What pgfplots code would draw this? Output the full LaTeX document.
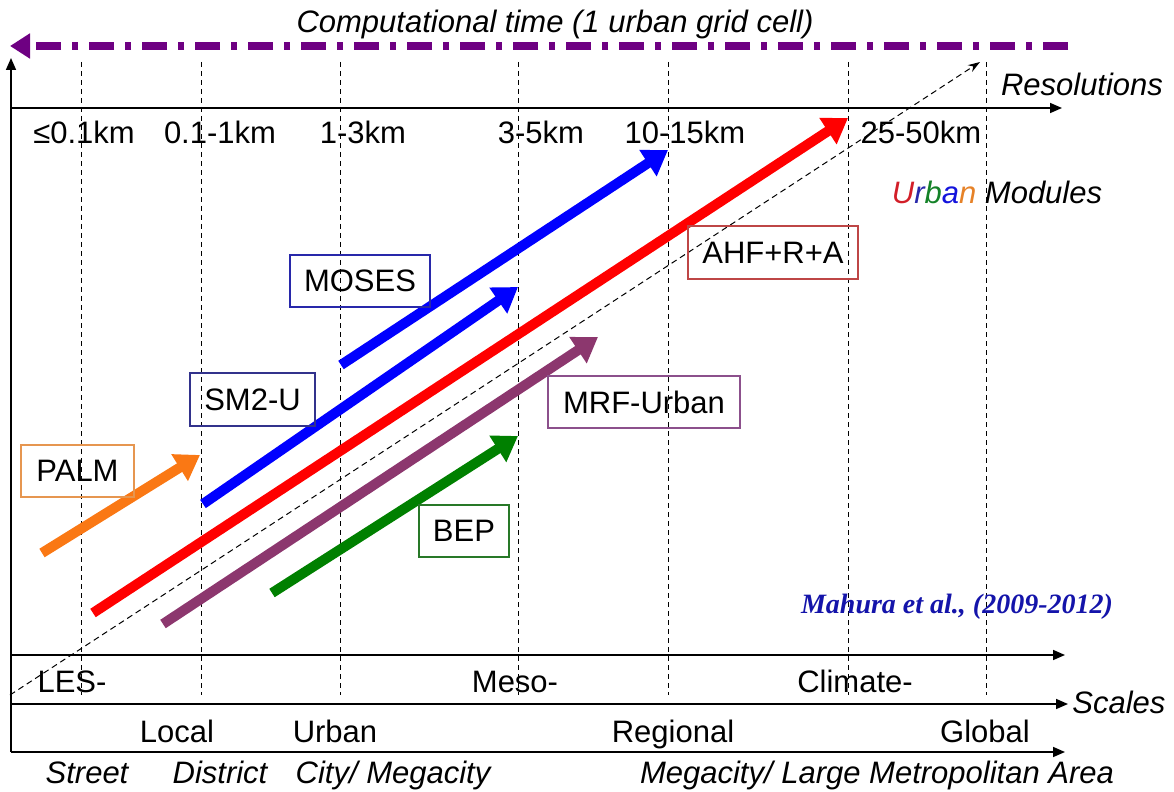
\documentclass[border=0pt]{standalone}
\usepackage{pgfplots}
\pgfplotsset{compat=1.18}
\usetikzlibrary{arrows.meta}
\usepackage{fontspec}
\setmainfont{Liberation Sans}
\newfontfamily\citefont{Liberation Serif}

\definecolor{palmorange}{RGB}{250,120,20}
\definecolor{mrfplum}{RGB}{140,55,110}
\definecolor{ctpurple}{RGB}{110,0,130}
\definecolor{modgreen}{RGB}{0,128,0}
\definecolor{citeblue}{RGB}{20,20,170}
\definecolor{boxpalm}{RGB}{230,150,80}
\definecolor{boxsm}{RGB}{50,50,140}
\definecolor{boxmoses}{RGB}{40,40,170}
\definecolor{boxahf}{RGB}{190,70,70}
\definecolor{boxmrf}{RGB}{140,80,140}
\definecolor{boxbep}{RGB}{40,120,40}

\tikzset{
  lab/.style={font=\fontsize{15.5}{18}\selectfont, inner sep=0pt, anchor=base},
  ilab/.style={font=\fontsize{15.5}{18}\selectfont\itshape, inner sep=0pt, anchor=base},
  mbox/.style={font=\fontsize{15.5}{18}\selectfont, line width=0.7pt, inner sep=0pt},
}

\begin{document}
\begin{tikzpicture}
\begin{axis}[
    x=0.5pt, y=0.5pt, y dir=reverse,
    xmin=0, xmax=1174, ymin=0, ymax=792,
    hide axis, clip=false,
    thk/.style={line width=5pt, mark=none, -{Triangle[length=12pt,width=15pt]}},
    axl/.style={black, line width=0.8pt, mark=none, -{Triangle[length=6pt,width=5pt]}},
    vdash/.style={black, line width=0.5pt, mark=none, dash pattern=on 2.5pt off 2pt},
]
\path (axis cs:0,0) rectangle (axis cs:1174,792);

% computational time arrow
\addplot[ctpurple, line width=4pt, mark=none,
    dash pattern=on 12.5pt off 5.5pt on 3pt off 5.5pt,
    -{Triangle[length=10pt,width=12pt]}] coordinates {(1068,46) (10,46)};

% dashed resolution lines
\addplot[vdash] coordinates {(81,62) (81,695)};
\addplot[vdash] coordinates {(201,62) (201,695)};
\addplot[vdash] coordinates {(340,62) (340,695)};
\addplot[vdash] coordinates {(518,62) (518,695)};
\addplot[vdash] coordinates {(668,62) (668,695)};
\addplot[vdash] coordinates {(848,62) (848,695)};
\addplot[vdash] coordinates {(986,62) (986,695)};

% axes
\addplot[axl] coordinates {(11,752) (11,58)};
\addplot[axl] coordinates {(11,108) (1062,108)};
\addplot[axl] coordinates {(11,655) (1065,655)};
\addplot[axl] coordinates {(11,704) (1068,704)};
\addplot[axl] coordinates {(11,752) (1065,752)};

% diagonal
\addplot[black, line width=0.5pt, mark=none, dash pattern=on 3pt off 2pt,
    -{Stealth[length=6pt,width=4pt]}] coordinates {(10,695) (980,62)};

% module arrows
\addplot[thk, palmorange] coordinates {(42,553) (200,455)};
\addplot[thk, blue] coordinates {(203,504) (518,287)};
\addplot[thk, blue] coordinates {(341,365) (668,150)};
\addplot[thk, red] coordinates {(93,613) (848,118)};
\addplot[thk, mrfplum] coordinates {(163,624) (598,337)};
\addplot[thk, modgreen] coordinates {(272,593) (518,436)};

% boxes
\node[mbox, draw=boxpalm, minimum width=56.5pt, minimum height=26pt] at (axis cs:77.5,471) {PALM};
\node[mbox, draw=boxsm, minimum width=62.5pt, minimum height=26.5pt] at (axis cs:252.5,399.5) {SM2-U};
\node[mbox, draw=boxmoses, minimum width=70pt, minimum height=26pt] at (axis cs:360,281) {MOSES};
\node[mbox, draw=boxahf, minimum width=85pt, minimum height=26.5pt] at (axis cs:773,252.5) {AHF+R+A};
\node[mbox, draw=boxmrf, minimum width=96pt, minimum height=26pt] at (axis cs:644,402) {MRF-Urban};
\node[mbox, draw=boxbep, minimum width=45pt, minimum height=26pt] at (axis cs:464,531) {BEP};

% texts
\node[ilab] at (axis cs:555,33) {Computational time (1 urban grid cell)};
\node[ilab] at (axis cs:1082,96) {Resolutions};
\node[lab] at (axis cs:84,144) {≤0.1km};
\node[lab] at (axis cs:220,144) {0.1-1km};
\node[lab] at (axis cs:363,144) {1-3km};
\node[lab] at (axis cs:541,144) {3-5km};
\node[lab] at (axis cs:685,144) {10-15km};
\node[lab] at (axis cs:921,144) {25-50km};
\node[ilab] at (axis cs:997,204) {\textcolor[RGB]{210,30,40}{U}\textcolor[RGB]{40,40,170}{r}\textcolor[RGB]{20,130,40}{b}\textcolor[RGB]{20,20,220}{a}\textcolor[RGB]{230,130,40}{n} Modules};
\node[font=\fontsize{14}{17}\selectfont\citefont\bfseries\itshape, text=citeblue, inner sep=0pt, anchor=base] at (axis cs:957,613) {Mahura et al., (2009-2012)};
\node[lab] at (axis cs:72,692) {LES-};
\node[lab] at (axis cs:515,692) {Meso-};
\node[lab] at (axis cs:855,692) {Climate-};
\node[ilab, anchor=base west] at (axis cs:1072,713) {Scales};
\node[lab] at (axis cs:177,742) {Local};
\node[lab] at (axis cs:335,742) {Urban};
\node[lab] at (axis cs:673,742) {Regional};
\node[lab] at (axis cs:985,742) {Global};
\node[ilab] at (axis cs:87,783) {Street};
\node[ilab] at (axis cs:220,783) {District};
\node[ilab] at (axis cs:393,783) {City/ Megacity};
\node[ilab] at (axis cs:877,783) {Megacity/ Large Metropolitan Area};
\end{axis}
\end{tikzpicture}
\end{document}
